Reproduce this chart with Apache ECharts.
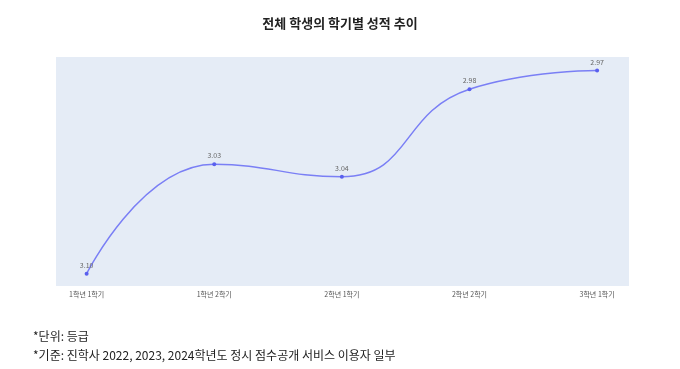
<!DOCTYPE html>
<html><head><meta charset="utf-8">
<script src="https://cdn.jsdelivr.net/npm/echarts@6/dist/echarts.min.js"></script>
<style>html,body{margin:0;padding:0;background:#fff}#c{width:680px;height:369px}</style>
</head><body><div id="c"></div>
<script>
const categories = ['1학년 1학기','1학년 2학기','2학년 1학기','2학년 2학기','3학년 1학기'];
const grades = [3.100, 3.030, 3.038, 2.982, 2.970];
const title = '전체 학생의 학기별 성적 추이';
const notes = ['*단위: 등급', '*기준: 진학사 2022, 2023, 2024학년도 정시 점수공개 서비스 이용자 일부'];

const font = '"Noto Sans CJK KR", "Noto Sans", sans-serif';
const chart = echarts.init(document.getElementById('c'));
chart.setOption({
  animation: false,
  title: {
    text: title, left: 'center', top: 12,
    textStyle: {fontFamily: font, fontSize: 13, fontWeight: 'bold', color: '#222'}
  },
  graphic: notes.map((t, i) => ({
    type: 'text', left: 33, top: 330 + i * 19,
    style: {text: t, font: '12px ' + font, fill: '#222'}
  })),
  grid: {left: 56, right: 51, top: 57, bottom: 83, show: true,
         backgroundColor: '#E5ECF6', borderWidth: 0},
  xAxis: {
    type: 'value', min: -0.24, max: 4.25,
    axisLine: {show: false}, axisTick: {show: false}, splitLine: {show: false},
    axisLabel: {
      customValues: categories.map((c, i) => i),
      formatter: v => categories[Math.round(v)] || '',
      fontFamily: font, fontSize: 7, color: '#555', margin: 5
    }
  },
  yAxis: {
    type: 'value', inverse: true, min: 2.9614, max: 3.1079,
    axisLine: {show: false}, axisTick: {show: false},
    axisLabel: {show: false}, splitLine: {show: false}
  },
  series: [{
    type: 'line',
    data: grades.map((g, i) => [i, g]),
    smooth: 0.5,
    symbol: 'circle', symbolSize: 4,
    lineStyle: {color: '#7a7ff5', width: 1.5},
    itemStyle: {color: '#5a60ee'},
    label: {
      show: true, position: 'top', distance: 3,
      formatter: p => p.value[1].toFixed(2),
      fontFamily: font, fontSize: 7, color: '#666'
    }
  }]
});
</script></body></html>
